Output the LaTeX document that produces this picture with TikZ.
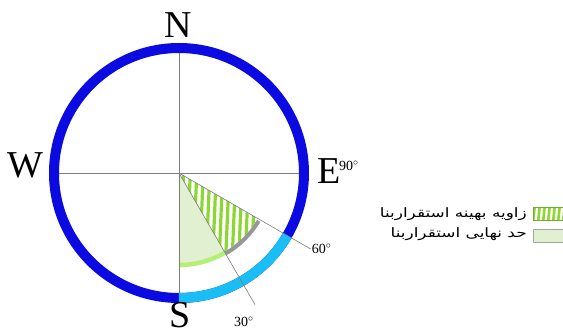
\documentclass[tikz,border=0pt]{standalone}
\usepackage{fontspec}
\setmainfont{Liberation Serif}
\newfontfamily\arabicfont[Script=Arabic, FakeStretch=1.3]{DejaVu Sans}
\TeXXeTstate=1
\definecolor{ringblue}{RGB}{10,10,225}
\definecolor{ringlight}{RGB}{25,190,245}
\definecolor{axisgray}{RGB}{125,125,125}
\definecolor{arcgray}{RGB}{150,150,155}
\definecolor{arcgreen}{RGB}{180,240,120}
\definecolor{palegreen}{RGB}{226,240,210}
\definecolor{hatchgreen}{RGB}{140,215,50}
\begin{document}
\begin{tikzpicture}[x=1pt, y=1pt,
    compass/.style={font=\fontsize{38}{38}\selectfont, inner sep=0pt},
    deg/.style={font=\fontsize{14}{14}\selectfont, inner sep=0pt},
    axis/.style={draw=axisgray, line width=0.6pt},
    keytext/.style={font=\arabicfont\fontsize{13}{14}\selectfont, inner sep=0pt, anchor=east},
    keybox/.style={draw=axisgray!70, line width=0.5pt, minimum width=30pt, minimum height=13pt, inner sep=0pt}]
    \useasboundingbox (-179,-161) rectangle (384,173);
    \coordinate (O) at (0,0);
    \coordinate (top) at (90:120);
    \coordinate (bottom) at (-90:120);
    \coordinate (left) at (180:120);
    \coordinate (right) at (0:120);
    \coordinate (end60) at (-30:152);
    \coordinate (end30) at (-60:152);
    \fill[palegreen] (O) -- (-60:92) arc[start angle=-60, end angle=-90, radius=92] -- cycle;
    \begin{scope}
        \clip (O) -- (-30:91) arc[start angle=-30, end angle=-60, radius=91] -- cycle;
        \foreach \x in {1,7.5,...,90}
            \draw[hatchgreen, line width=3.2pt] (\x,-90) -- (\x+4,5);
    \end{scope}
    \draw[arcgreen, line width=4.5pt] (-90:92) arc[start angle=-90, end angle=-60, radius=92];
    \draw[arcgray, line width=4pt] (-60:93) arc[start angle=-60, end angle=-31, radius=93];
    \draw[ringblue, line width=10pt] (O) circle[radius=125];
    \draw[ringlight, line width=10pt] (-90:125) arc[start angle=-90, end angle=-30, radius=125];
    \draw[axis] (top) -- (bottom);
    \draw[axis] (left) -- (right);
    \draw[axis] (O) -- (end60);
    \draw[axis] (O) -- (end30);
    \node[compass] (N) at (-1,148) {N};
    \node[compass] (S) at (1,-142) {S};
    \node[compass] (W) at (-154,8) {W};
    \node[compass] (E) at (150,2) {E};
    \node[deg] (d90) at (170,7) {90$^{\circ}$};
    \node[deg, anchor=west] (d60) at ([xshift=1pt]end60) {60$^{\circ}$};
    \node[deg] (d30) at (65,-149) {30$^{\circ}$};
    \node[keytext] (t1) at (348,-41) {\beginR زاویه  بهینه استقراربنا\endR};
    \node[keytext] (t2) at (348,-61) {\beginR حد نهایی استقراربنا\endR};
    \node[keybox, draw=hatchgreen!80!black, anchor=north west,
        path picture={\foreach \x in {0,5,...,30}
            \draw[hatchgreen, line width=2.6pt] ([xshift=\x pt]path picture bounding box.south west) -- ++(1.5,14);}]
        (k1) at (354,-34) {};
    \node[keybox, fill=palegreen, anchor=north west] (k2) at (354,-56) {};
\end{tikzpicture}
\end{document}
